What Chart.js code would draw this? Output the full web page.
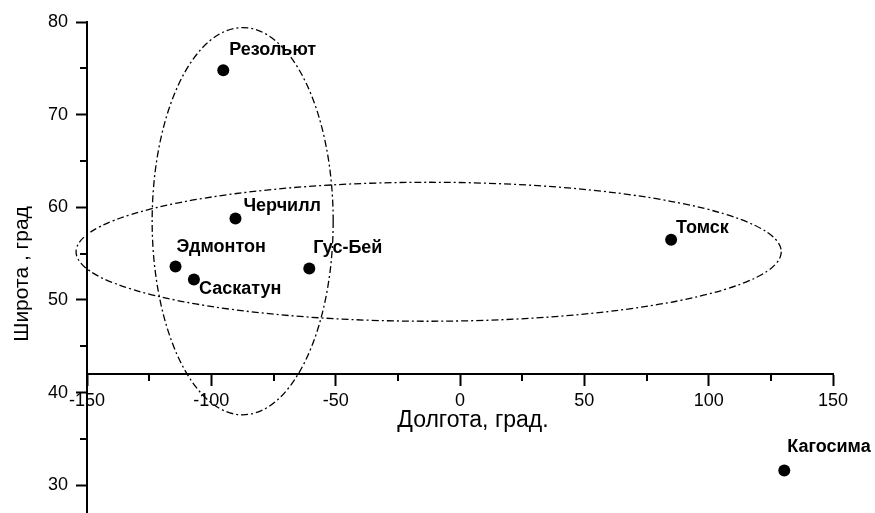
<!DOCTYPE html>
<html>
<head>
<meta charset="utf-8">
<script src="https://cdn.jsdelivr.net/npm/chart.js@4/dist/chart.umd.min.js"></script>
<style>
  html, body { margin: 0; padding: 0; background: #fff; }
  #wrap { width: 875px; height: 513px; position: relative; }
</style>
</head>
<body>
<div id="wrap"><canvas id="chart"></canvas></div>
<script>
// Stations and their coordinates (degrees)
const cities = ['Резольют', 'Черчилл', 'Эдмонтон', 'Саскатун', 'Гус-Бей', 'Томск', 'Кагосима'];
const longitudes = [-95.2, -90.3, -114.4, -107.0, -60.6, 84.9, 130.4];
const latitudes = [74.8, 58.8, 53.6, 52.2, 53.4, 56.5, 31.6];

// Axis ticks
const xTickValues = [-150, -100, -50, 0, 50, 100, 150];
const xMinorTickValues = [-125, -75, -25, 25, 75, 125];
const yTickValues = [30, 40, 50, 60, 70, 80];
const yMinorTickValues = [35, 45, 55, 65, 75];
const xAxisCrossing = 42;   // latitude where the longitude axis is drawn

// Dash-dot ellipses around the station groups (centre and semi-axes, degrees)
const ellipseLon = [-87.4, -12.6];
const ellipseLat = [58.5, 55.2];
const ellipseHalfLon = [36.4, 141.8];
const ellipseHalfLat = [20.9, 7.5];

const xTitle = 'Долгота, град.';
const yTitle = 'Широта , град';

const FONT = '"Liberation Sans", Arial, Helvetica, sans-serif';
// where each station name sits relative to its marker, px
const labelOffsets = [[6, -20], [8, -12], [1, -20], [5, 9], [4, -20], [5, -12], [3, -23]];

const points = longitudes.map((lon, i) => ({ x: lon, y: latitudes[i] }));

const decorations = {
  id: 'decorations',
  afterDatasetsDraw(chart) {
    const { ctx, scales: { x, y } } = chart;
    ctx.save();

    // ellipses
    ctx.strokeStyle = '#000';
    ctx.lineWidth = 1.3;
    ctx.setLineDash([7, 3, 2, 3]);
    for (let i = 0; i < ellipseLon.length; i++) {
      const cx = x.getPixelForValue(ellipseLon[i]);
      const cy = y.getPixelForValue(ellipseLat[i]);
      const rx = x.getPixelForValue(ellipseLon[i] + ellipseHalfLon[i]) - cx;
      const ry = cy - y.getPixelForValue(ellipseLat[i] + ellipseHalfLat[i]);
      ctx.beginPath();
      ctx.ellipse(cx, cy, rx, ry, 0, 0, Math.PI * 2);
      ctx.stroke();
    }
    ctx.setLineDash([]);

    // minor ticks
    ctx.lineWidth = 2;
    const axisY = Math.round(y.getPixelForValue(xAxisCrossing));
    const axisX = x.left;
    ctx.beginPath();
    xMinorTickValues.forEach(v => {
      const px = Math.round(x.getPixelForValue(v));
      ctx.moveTo(px, axisY);
      ctx.lineTo(px, axisY + 7);
    });
    yMinorTickValues.forEach(v => {
      const py = Math.round(y.getPixelForValue(v));
      ctx.moveTo(axisX, py);
      ctx.lineTo(axisX - 7, py);
    });
    ctx.stroke();

    // station names
    const meta = chart.getDatasetMeta(0);
    ctx.fillStyle = '#000';
    ctx.font = 'bold 18px ' + FONT;
    ctx.textAlign = 'left';
    ctx.textBaseline = 'middle';
    meta.data.forEach((el, i) => {
      ctx.fillText(cities[i], el.x + labelOffsets[i][0], el.y + labelOffsets[i][1]);
    });

    // axis titles
    ctx.textAlign = 'center';
    ctx.textBaseline = 'alphabetic';
    ctx.font = '23px ' + FONT;
    ctx.fillText(xTitle, 473, 427);
    ctx.font = '21px ' + FONT;
    ctx.translate(28, 274);
    ctx.rotate(-Math.PI / 2);
    ctx.fillText(yTitle, 0, 0);
    ctx.restore();
  }
};

new Chart(document.getElementById('chart'), {
  type: 'scatter',
  data: {
    datasets: [{
      data: points,
      backgroundColor: '#000',
      borderWidth: 0,
      pointRadius: 6,
      pointHoverRadius: 6
    }]
  },
  options: {
    responsive: true,
    maintainAspectRatio: false,
    animation: false,
    events: [],
    layout: { autoPadding: false, padding: { top: 22, right: 42, left: 0, bottom: 0 } },
    plugins: { legend: { display: false }, tooltip: { enabled: false } },
    scales: {
      x: {
        type: 'linear',
        min: -150,
        max: 150,
        position: { y: xAxisCrossing },
        afterBuildTicks: s => { s.ticks = xTickValues.map(v => ({ value: v })); },
        afterFit: s => { s.height = 0; s.paddingLeft = 0; s.paddingRight = 0; },
        border: { display: true, color: '#000', width: 2 },
        grid: { display: true, drawOnChartArea: false, drawTicks: true, tickLength: 11, tickWidth: 2, tickColor: '#000', color: '#000' },
        ticks: { color: '#000', font: { family: FONT, size: 18 }, padding: 5, maxRotation: 0, autoSkip: false }
      },
      y: {
        type: 'linear',
        min: 27,
        max: 80,
        position: 'left',
        afterBuildTicks: s => { s.ticks = yTickValues.map(v => ({ value: v })); },
        afterFit: s => { s.width = 87; s.paddingTop = 0; s.paddingBottom = 0; },
        border: { display: true, color: '#000', width: 2 },
        grid: { display: true, drawOnChartArea: false, drawTicks: true, tickLength: 11, tickWidth: 2, tickColor: '#000', color: '#000' },
        ticks: { color: '#000', font: { family: FONT, size: 18 }, padding: 8, autoSkip: false }
      }
    }
  },
  plugins: [decorations]
});
</script>
</body>
</html>
